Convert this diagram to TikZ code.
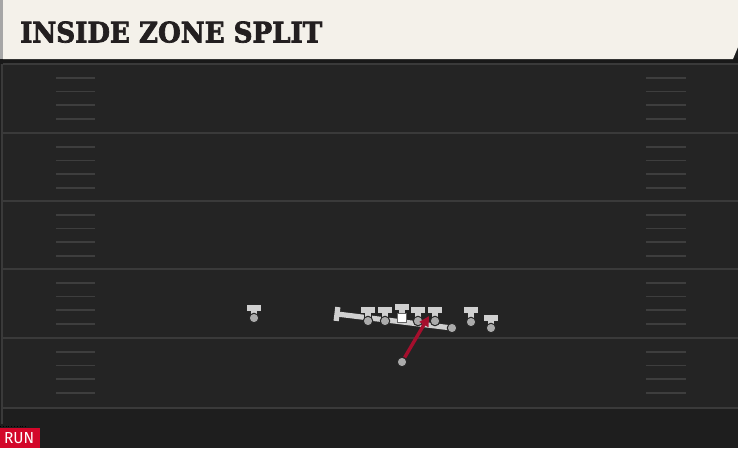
\documentclass[tikz,border=0pt]{standalone}
\usepackage{fontspec}
\usepackage{graphicx}
\usetikzlibrary{arrows.meta,calc}
\newfontfamily\titlefont[BoldFeatures={FakeBold=2.5}]{DejaVu Serif}
\newfontfamily\tagfont{Fira Sans}
\definecolor{bgdark}{HTML}{1E1E1E}
\definecolor{field}{HTML}{242424}
\definecolor{yardline}{HTML}{3A3A3A}
\definecolor{hashcol}{HTML}{3E3E3E}
\definecolor{cream}{HTML}{F4F1EA}
\definecolor{titleink}{HTML}{231F20}
\definecolor{teegray}{HTML}{D0D0D0}
\definecolor{dotgray}{HTML}{ABABAB}
\definecolor{runred}{HTML}{A50F2D}
\definecolor{tagred}{HTML}{D3072A}
\tikzset{
  yard/.style={draw=yardline, line width=2pt},
  hash/.style={draw=hashcol, line width=1.8pt},
  outl/.style={draw=black!85, line width=7.5pt},
  tee/.style={draw=teegray, line width=5.2pt},
  dot/.style={circle, inner sep=0pt, minimum size=9.5pt, fill=dotgray, draw=black!85, line width=1pt},
  ctr/.style={rectangle, inner sep=0pt, minimum size=9pt, fill=white, draw=black!60, line width=0.6pt},
  runpath/.style={draw=runred, line width=3.4pt, -{Triangle[length=10pt,width=10pt]}},
}
\newcommand\pT[4]{%
  \draw[outl] ({#2-7},{#3}) -- ({#2+7},{#3}) ({#2},{#3}) -- ({#2},{#4});
  \draw[tee] ({#2-7},{#3}) -- ({#2+7},{#3}) ({#2},{#3}) -- ({#2},{#4});
  \node[dot] (#1) at ({#2},{#4}) {};
}
\begin{document}
\begin{tikzpicture}[x=1pt,y=-1pt]
\useasboundingbox (0,0) rectangle (738,448);
% background
\fill[bgdark] (0,0) rectangle (738,448);
\fill[field] (3,64) rectangle (738,408);
\draw[draw=yardline, line width=1.5pt] (2,64) -- (2,424);
% header
\fill[black!90] (0,58) rectangle (738,64);
\fill[cream] (3,0) -- (738,0) -- (738,47) -- (733,59) -- (3,59) -- cycle;
\fill[black!35] (0,0) rectangle (3,59);
\node[anchor=south west, inner sep=0pt, text=titleink] (title) at (20,43)
  {\resizebox{302pt}{21pt}{\titlefont\bfseries INSIDE ZONE SPLIT}};
% yard lines
\foreach \yy in {64,133,201,269,338,408} \draw[yard] (3,\yy) -- (738,\yy);
% hash marks
\foreach \b in {64,133,201,269,338} {
  \foreach \k in {1,2,3,4} {
    \draw[hash] (56,{\b+\k*13.7}) -- (95,{\b+\k*13.7});
    \draw[hash] (646,{\b+\k*13.7}) -- (686,{\b+\k*13.7});
  }
}
% block path of H-back
\node[dot] (H) at (452,328) {};
\coordinate (blk) at (337,314);
\draw[outl] (H.center) -- (blk);
\draw[outl] ($(blk)!7pt!90:(H)$) -- ($(blk)!7pt!-90:(H)$);
\draw[tee] (H.center) -- (blk);
\draw[tee] ($(blk)!7pt!90:(H)$) -- ($(blk)!7pt!-90:(H)$);
\node[dot] at (H) {};
% players
\pT{WR}{254}{308}{318}
\pT{LT}{368}{310}{321}
\pT{LG}{385}{310}{321}
\draw[outl] (395,307) -- (409,307) (402,307) -- (402,316);
\draw[tee] (395,307) -- (409,307) (402,307) -- (402,316);
\node[ctr] (C) at (402,318) {};
\pT{RG}{418}{310}{321}
\pT{RT}{435}{310}{321}
\pT{TE}{471}{310}{322}
\pT{WG}{491}{318}{328}
% running back
\node[dot] (RB) at (402,362) {};
\coordinate (hole) at (429,316);
\draw[runpath] (RB) -- (hole);
% tag
\draw[black, dotted, line width=0.8pt] (0,426) -- (28,426);
\fill[tagred] (0,428) rectangle (40,448);
\node[anchor=south west, inner sep=0pt, text=white] (run) at (4,444)
  {\resizebox{30pt}{11pt}{\tagfont RUN}};
\end{tikzpicture}
\end{document}
